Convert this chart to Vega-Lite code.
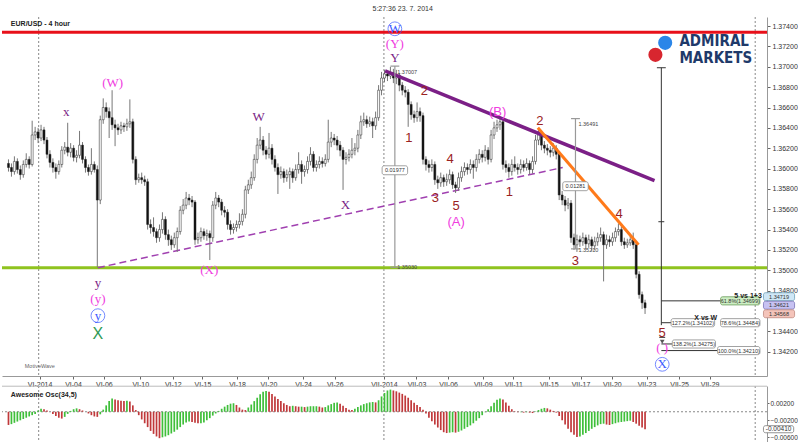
{
"$schema":"https://vega.github.io/schema/vega-lite/v6.json",
"padding":{"left":0,"top":4,"right":0,"bottom":0},
"background":"white",
"spacing":10,
"bounds":"flush",
"config":{"view":{"stroke":null},"font":"Liberation Sans","axis":{"grid":false,"title":null,"labelOverlap":false,"labelBound":false}},
"datasets":{
"candles":[
{"n":0,"o":1.3605,"h":1.3609,"l":1.3597,"c":1.3601,"ao":-0.0031},
{"n":1,"o":1.3601,"h":1.3605,"l":1.3592,"c":1.3597,"ao":-0.0029},
{"n":2,"o":1.3597,"h":1.3612,"l":1.3594,"c":1.3607,"ao":-0.0026},
{"n":3,"o":1.3607,"h":1.3610,"l":1.3595,"c":1.3599,"ao":-0.0023},
{"n":4,"o":1.3599,"h":1.3603,"l":1.3589,"c":1.3594,"ao":-0.0020},
{"n":5,"o":1.3594,"h":1.3608,"l":1.3591,"c":1.3604,"ao":-0.0017},
{"n":6,"o":1.3604,"h":1.3615,"l":1.3601,"c":1.3609,"ao":-0.0014},
{"n":7,"o":1.3609,"h":1.3612,"l":1.3600,"c":1.3604,"ao":-0.0011},
{"n":8,"o":1.3604,"h":1.3647,"l":1.3602,"c":1.3633,"ao":-0.0008},
{"n":9,"o":1.3633,"h":1.3641,"l":1.3628,"c":1.3636,"ao":-0.0005},
{"n":10,"o":1.3636,"h":1.3640,"l":1.3625,"c":1.3630,"ao":0.0003},
{"n":11,"o":1.3630,"h":1.3643,"l":1.3627,"c":1.3638,"ao":0.0007},
{"n":12,"o":1.3638,"h":1.3641,"l":1.3624,"c":1.3628,"ao":0.0006},
{"n":13,"o":1.3628,"h":1.3631,"l":1.3610,"c":1.3614,"ao":0.0003},
{"n":14,"o":1.3614,"h":1.3618,"l":1.3601,"c":1.3606,"ao":0.0000},
{"n":15,"o":1.3606,"h":1.3610,"l":1.3596,"c":1.3601,"ao":-0.0005},
{"n":16,"o":1.3601,"h":1.3605,"l":1.3590,"c":1.3597,"ao":-0.0010},
{"n":17,"o":1.3597,"h":1.3608,"l":1.3594,"c":1.3604,"ao":-0.0014},
{"n":18,"o":1.3604,"h":1.3622,"l":1.3601,"c":1.3618,"ao":-0.0016},
{"n":19,"o":1.3618,"h":1.3626,"l":1.3614,"c":1.3621,"ao":-0.0012},
{"n":20,"o":1.3621,"h":1.3645,"l":1.3612,"c":1.3616,"ao":-0.0005},
{"n":21,"o":1.3616,"h":1.3625,"l":1.3611,"c":1.3620,"ao":0.0002},
{"n":22,"o":1.3620,"h":1.3623,"l":1.3607,"c":1.3611,"ao":0.0006},
{"n":23,"o":1.3611,"h":1.3618,"l":1.3606,"c":1.3613,"ao":0.0008},
{"n":24,"o":1.3613,"h":1.3637,"l":1.3610,"c":1.3623,"ao":0.0006},
{"n":25,"o":1.3623,"h":1.3626,"l":1.3605,"c":1.3609,"ao":0.0003},
{"n":26,"o":1.3609,"h":1.3612,"l":1.3596,"c":1.3601,"ao":0.0000},
{"n":27,"o":1.3601,"h":1.3604,"l":1.3593,"c":1.3597,"ao":-0.0004},
{"n":28,"o":1.3597,"h":1.3620,"l":1.3594,"c":1.3604,"ao":-0.0008},
{"n":29,"o":1.3604,"h":1.3607,"l":1.3596,"c":1.3599,"ao":-0.0011},
{"n":30,"o":1.3599,"h":1.3603,"l":1.3503,"c":1.3569,"ao":-0.0012},
{"n":31,"o":1.3569,"h":1.3652,"l":1.3565,"c":1.3648,"ao":-0.0006},
{"n":32,"o":1.3648,"h":1.3669,"l":1.3644,"c":1.3660,"ao":0.0005},
{"n":33,"o":1.3660,"h":1.3665,"l":1.3650,"c":1.3656,"ao":0.0015},
{"n":34,"o":1.3656,"h":1.3660,"l":1.3630,"c":1.3650,"ao":0.0025},
{"n":35,"o":1.3650,"h":1.3677,"l":1.3638,"c":1.3643,"ao":0.0031},
{"n":36,"o":1.3643,"h":1.3648,"l":1.3622,"c":1.3640,"ao":0.0029},
{"n":37,"o":1.3640,"h":1.3644,"l":1.3633,"c":1.3638,"ao":0.0027},
{"n":38,"o":1.3638,"h":1.3646,"l":1.3634,"c":1.3642,"ao":0.0026},
{"n":39,"o":1.3642,"h":1.3645,"l":1.3636,"c":1.3641,"ao":0.0025},
{"n":40,"o":1.3641,"h":1.3649,"l":1.3637,"c":1.3644,"ao":0.0026},
{"n":41,"o":1.3644,"h":1.3668,"l":1.3640,"c":1.3646,"ao":0.0024},
{"n":42,"o":1.3646,"h":1.3649,"l":1.3605,"c":1.3609,"ao":0.0015},
{"n":43,"o":1.3609,"h":1.3612,"l":1.3584,"c":1.3589,"ao":0.0004},
{"n":44,"o":1.3589,"h":1.3595,"l":1.3586,"c":1.3591,"ao":-0.0008},
{"n":45,"o":1.3591,"h":1.3596,"l":1.3585,"c":1.3589,"ao":-0.0018},
{"n":46,"o":1.3589,"h":1.3593,"l":1.3583,"c":1.3587,"ao":-0.0027},
{"n":47,"o":1.3587,"h":1.3590,"l":1.3540,"c":1.3545,"ao":-0.0036},
{"n":48,"o":1.3545,"h":1.3550,"l":1.3536,"c":1.3542,"ao":-0.0045},
{"n":49,"o":1.3542,"h":1.3552,"l":1.3533,"c":1.3538,"ao":-0.0052},
{"n":50,"o":1.3538,"h":1.3541,"l":1.3527,"c":1.3532,"ao":-0.0058},
{"n":51,"o":1.3532,"h":1.3545,"l":1.3528,"c":1.3540,"ao":-0.0062},
{"n":52,"o":1.3540,"h":1.3557,"l":1.3536,"c":1.3550,"ao":-0.0060},
{"n":53,"o":1.3550,"h":1.3553,"l":1.3530,"c":1.3535,"ao":-0.0058},
{"n":54,"o":1.3535,"h":1.3540,"l":1.3524,"c":1.3530,"ao":-0.0055},
{"n":55,"o":1.3530,"h":1.3534,"l":1.3520,"c":1.3525,"ao":-0.0051},
{"n":56,"o":1.3525,"h":1.3537,"l":1.3522,"c":1.3532,"ao":-0.0047},
{"n":57,"o":1.3532,"h":1.3542,"l":1.3518,"c":1.3538,"ao":-0.0042},
{"n":58,"o":1.3538,"h":1.3563,"l":1.3535,"c":1.3559,"ao":-0.0036},
{"n":59,"o":1.3559,"h":1.3570,"l":1.3555,"c":1.3564,"ao":-0.0030},
{"n":60,"o":1.3564,"h":1.3577,"l":1.3560,"c":1.3571,"ao":-0.0025},
{"n":61,"o":1.3571,"h":1.3575,"l":1.3564,"c":1.3569,"ao":-0.0023},
{"n":62,"o":1.3569,"h":1.3573,"l":1.3562,"c":1.3567,"ao":-0.0024},
{"n":63,"o":1.3567,"h":1.3569,"l":1.3525,"c":1.3530,"ao":-0.0026},
{"n":64,"o":1.3530,"h":1.3537,"l":1.3526,"c":1.3532,"ao":-0.0027},
{"n":65,"o":1.3532,"h":1.3542,"l":1.3528,"c":1.3538,"ao":-0.0027},
{"n":66,"o":1.3538,"h":1.3541,"l":1.3530,"c":1.3534,"ao":-0.0025},
{"n":67,"o":1.3534,"h":1.3540,"l":1.3529,"c":1.3536,"ao":-0.0020},
{"n":68,"o":1.3536,"h":1.3539,"l":1.3510,"c":1.3532,"ao":-0.0015},
{"n":69,"o":1.3532,"h":1.3568,"l":1.3528,"c":1.3564,"ao":-0.0009},
{"n":70,"o":1.3564,"h":1.3577,"l":1.3560,"c":1.3571,"ao":-0.0004},
{"n":71,"o":1.3571,"h":1.3574,"l":1.3562,"c":1.3567,"ao":0.0002},
{"n":72,"o":1.3567,"h":1.3570,"l":1.3554,"c":1.3559,"ao":0.0007},
{"n":73,"o":1.3559,"h":1.3563,"l":1.3552,"c":1.3557,"ao":0.0012},
{"n":74,"o":1.3557,"h":1.3560,"l":1.3540,"c":1.3545,"ao":0.0016},
{"n":75,"o":1.3545,"h":1.3549,"l":1.3535,"c":1.3540,"ao":0.0019},
{"n":76,"o":1.3540,"h":1.3546,"l":1.3536,"c":1.3542,"ao":0.0020},
{"n":77,"o":1.3542,"h":1.3549,"l":1.3538,"c":1.3545,"ao":0.0016},
{"n":78,"o":1.3545,"h":1.3556,"l":1.3541,"c":1.3548,"ao":0.0010},
{"n":79,"o":1.3548,"h":1.3560,"l":1.3544,"c":1.3555,"ao":0.0005},
{"n":80,"o":1.3555,"h":1.3583,"l":1.3551,"c":1.3579,"ao":0.0004},
{"n":81,"o":1.3579,"h":1.3589,"l":1.3575,"c":1.3584,"ao":0.0010},
{"n":82,"o":1.3584,"h":1.3597,"l":1.3580,"c":1.3591,"ao":0.0017},
{"n":83,"o":1.3591,"h":1.3614,"l":1.3588,"c":1.3609,"ao":0.0025},
{"n":84,"o":1.3609,"h":1.3630,"l":1.3605,"c":1.3623,"ao":0.0033},
{"n":85,"o":1.3623,"h":1.3641,"l":1.3619,"c":1.3628,"ao":0.0041},
{"n":86,"o":1.3628,"h":1.3632,"l":1.3613,"c":1.3618,"ao":0.0047},
{"n":87,"o":1.3618,"h":1.3622,"l":1.3609,"c":1.3614,"ao":0.0049},
{"n":88,"o":1.3614,"h":1.3635,"l":1.3610,"c":1.3620,"ao":0.0047},
{"n":89,"o":1.3620,"h":1.3624,"l":1.3604,"c":1.3609,"ao":0.0042},
{"n":90,"o":1.3609,"h":1.3613,"l":1.3597,"c":1.3601,"ao":0.0036},
{"n":91,"o":1.3601,"h":1.3605,"l":1.3575,"c":1.3594,"ao":0.0030},
{"n":92,"o":1.3594,"h":1.3602,"l":1.3590,"c":1.3597,"ao":0.0025},
{"n":93,"o":1.3597,"h":1.3600,"l":1.3586,"c":1.3591,"ao":0.0020},
{"n":94,"o":1.3591,"h":1.3599,"l":1.3587,"c":1.3594,"ao":0.0016},
{"n":95,"o":1.3594,"h":1.3601,"l":1.3580,"c":1.3597,"ao":0.0013},
{"n":96,"o":1.3597,"h":1.3600,"l":1.3586,"c":1.3591,"ao":0.0014},
{"n":97,"o":1.3591,"h":1.3604,"l":1.3588,"c":1.3599,"ao":0.0013},
{"n":98,"o":1.3599,"h":1.3616,"l":1.3595,"c":1.3604,"ao":0.0012},
{"n":99,"o":1.3604,"h":1.3608,"l":1.3585,"c":1.3597,"ao":0.0012},
{"n":100,"o":1.3597,"h":1.3603,"l":1.3592,"c":1.3599,"ao":0.0011},
{"n":101,"o":1.3599,"h":1.3612,"l":1.3595,"c":1.3607,"ao":0.0012},
{"n":102,"o":1.3607,"h":1.3621,"l":1.3603,"c":1.3614,"ao":0.0013},
{"n":103,"o":1.3614,"h":1.3617,"l":1.3597,"c":1.3601,"ao":0.0013},
{"n":104,"o":1.3601,"h":1.3608,"l":1.3597,"c":1.3604,"ao":0.0013},
{"n":105,"o":1.3604,"h":1.3612,"l":1.3600,"c":1.3607,"ao":0.0012},
{"n":106,"o":1.3607,"h":1.3611,"l":1.3601,"c":1.3605,"ao":0.0010},
{"n":107,"o":1.3605,"h":1.3614,"l":1.3602,"c":1.3609,"ao":0.0011},
{"n":108,"o":1.3609,"h":1.3648,"l":1.3606,"c":1.3626,"ao":0.0015},
{"n":109,"o":1.3626,"h":1.3636,"l":1.3621,"c":1.3630,"ao":0.0018},
{"n":110,"o":1.3630,"h":1.3634,"l":1.3623,"c":1.3628,"ao":0.0021},
{"n":111,"o":1.3628,"h":1.3632,"l":1.3618,"c":1.3623,"ao":0.0022},
{"n":112,"o":1.3623,"h":1.3627,"l":1.3612,"c":1.3618,"ao":0.0019},
{"n":113,"o":1.3618,"h":1.3621,"l":1.3579,"c":1.3609,"ao":0.0014},
{"n":114,"o":1.3609,"h":1.3616,"l":1.3604,"c":1.3611,"ao":0.0009},
{"n":115,"o":1.3611,"h":1.3619,"l":1.3607,"c":1.3614,"ao":0.0005},
{"n":116,"o":1.3614,"h":1.3630,"l":1.3610,"c":1.3618,"ao":0.0004},
{"n":117,"o":1.3618,"h":1.3625,"l":1.3613,"c":1.3620,"ao":0.0007},
{"n":118,"o":1.3620,"h":1.3638,"l":1.3616,"c":1.3633,"ao":0.0011},
{"n":119,"o":1.3633,"h":1.3652,"l":1.3629,"c":1.3646,"ao":0.0015},
{"n":120,"o":1.3646,"h":1.3655,"l":1.3642,"c":1.3648,"ao":0.0018},
{"n":121,"o":1.3648,"h":1.3652,"l":1.3640,"c":1.3644,"ao":0.0020},
{"n":122,"o":1.3644,"h":1.3651,"l":1.3641,"c":1.3646,"ao":0.0022},
{"n":123,"o":1.3646,"h":1.3650,"l":1.3630,"c":1.3642,"ao":0.0023},
{"n":124,"o":1.3642,"h":1.3656,"l":1.3638,"c":1.3650,"ao":0.0022},
{"n":125,"o":1.3650,"h":1.3682,"l":1.3647,"c":1.3677,"ao":0.0027},
{"n":126,"o":1.3677,"h":1.3695,"l":1.3672,"c":1.3689,"ao":0.0036},
{"n":127,"o":1.3689,"h":1.3697,"l":1.3685,"c":1.3693,"ao":0.0044},
{"n":128,"o":1.3693,"h":1.3696,"l":1.3686,"c":1.3691,"ao":0.0050},
{"n":129,"o":1.3691,"h":1.3700,"l":1.3688,"c":1.3694,"ao":0.0052},
{"n":130,"o":1.3694,"h":1.3698,"l":1.3684,"c":1.3689,"ao":0.0050},
{"n":131,"o":1.3689,"h":1.3697,"l":1.3683,"c":1.3692,"ao":0.0048},
{"n":132,"o":1.3692,"h":1.3694,"l":1.3676,"c":1.3682,"ao":0.0045},
{"n":133,"o":1.3682,"h":1.3685,"l":1.3672,"c":1.3677,"ao":0.0042},
{"n":134,"o":1.3677,"h":1.3681,"l":1.3670,"c":1.3675,"ao":0.0038},
{"n":135,"o":1.3675,"h":1.3678,"l":1.3641,"c":1.3663,"ao":0.0033},
{"n":136,"o":1.3663,"h":1.3666,"l":1.3648,"c":1.3653,"ao":0.0027},
{"n":137,"o":1.3653,"h":1.3657,"l":1.3645,"c":1.3650,"ao":0.0021},
{"n":138,"o":1.3650,"h":1.3665,"l":1.3646,"c":1.3656,"ao":0.0016},
{"n":139,"o":1.3656,"h":1.3660,"l":1.3646,"c":1.3652,"ao":0.0011},
{"n":140,"o":1.3652,"h":1.3655,"l":1.3604,"c":1.3609,"ao":0.0005},
{"n":141,"o":1.3609,"h":1.3612,"l":1.3598,"c":1.3604,"ao":-0.0004},
{"n":142,"o":1.3604,"h":1.3608,"l":1.3596,"c":1.3601,"ao":-0.0014},
{"n":143,"o":1.3601,"h":1.3609,"l":1.3597,"c":1.3604,"ao":-0.0022},
{"n":144,"o":1.3604,"h":1.3607,"l":1.3584,"c":1.3589,"ao":-0.0030},
{"n":145,"o":1.3589,"h":1.3593,"l":1.3580,"c":1.3586,"ao":-0.0037},
{"n":146,"o":1.3586,"h":1.3596,"l":1.3582,"c":1.3591,"ao":-0.0043},
{"n":147,"o":1.3591,"h":1.3594,"l":1.3582,"c":1.3587,"ao":-0.0048},
{"n":148,"o":1.3587,"h":1.3595,"l":1.3583,"c":1.3589,"ao":-0.0050},
{"n":149,"o":1.3589,"h":1.3599,"l":1.3585,"c":1.3594,"ao":-0.0049},
{"n":150,"o":1.3594,"h":1.3597,"l":1.3580,"c":1.3584,"ao":-0.0048},
{"n":151,"o":1.3584,"h":1.3587,"l":1.3576,"c":1.3581,"ao":-0.0049},
{"n":152,"o":1.3581,"h":1.3596,"l":1.3578,"c":1.3591,"ao":-0.0047},
{"n":153,"o":1.3591,"h":1.3602,"l":1.3587,"c":1.3597,"ao":-0.0044},
{"n":154,"o":1.3597,"h":1.3606,"l":1.3593,"c":1.3601,"ao":-0.0040},
{"n":155,"o":1.3601,"h":1.3605,"l":1.3594,"c":1.3599,"ao":-0.0036},
{"n":156,"o":1.3599,"h":1.3609,"l":1.3595,"c":1.3604,"ao":-0.0032},
{"n":157,"o":1.3604,"h":1.3608,"l":1.3590,"c":1.3601,"ao":-0.0027},
{"n":158,"o":1.3601,"h":1.3614,"l":1.3597,"c":1.3609,"ao":-0.0021},
{"n":159,"o":1.3609,"h":1.3619,"l":1.3605,"c":1.3614,"ao":-0.0015},
{"n":160,"o":1.3614,"h":1.3618,"l":1.3606,"c":1.3611,"ao":-0.0008},
{"n":161,"o":1.3611,"h":1.3623,"l":1.3607,"c":1.3618,"ao":-0.0001},
{"n":162,"o":1.3618,"h":1.3621,"l":1.3604,"c":1.3609,"ao":0.0006},
{"n":163,"o":1.3609,"h":1.3638,"l":1.3606,"c":1.3633,"ao":0.0013},
{"n":164,"o":1.3633,"h":1.3646,"l":1.3629,"c":1.3640,"ao":0.0021},
{"n":165,"o":1.3640,"h":1.3648,"l":1.3636,"c":1.3643,"ao":0.0028},
{"n":166,"o":1.3643,"h":1.3651,"l":1.3638,"c":1.3646,"ao":0.0031},
{"n":167,"o":1.3646,"h":1.3649,"l":1.3599,"c":1.3604,"ao":0.0029},
{"n":168,"o":1.3604,"h":1.3608,"l":1.3596,"c":1.3601,"ao":0.0022},
{"n":169,"o":1.3601,"h":1.3605,"l":1.3591,"c":1.3597,"ao":0.0014},
{"n":170,"o":1.3597,"h":1.3609,"l":1.3593,"c":1.3604,"ao":0.0006},
{"n":171,"o":1.3604,"h":1.3612,"l":1.3597,"c":1.3601,"ao":0.0001},
{"n":172,"o":1.3601,"h":1.3605,"l":1.3594,"c":1.3599,"ao":-0.0001},
{"n":173,"o":1.3599,"h":1.3609,"l":1.3595,"c":1.3604,"ao":-0.0001},
{"n":174,"o":1.3604,"h":1.3608,"l":1.3597,"c":1.3601,"ao":-0.0002},
{"n":175,"o":1.3601,"h":1.3610,"l":1.3598,"c":1.3605,"ao":-0.0001},
{"n":176,"o":1.3605,"h":1.3608,"l":1.3594,"c":1.3599,"ao":-0.0002},
{"n":177,"o":1.3599,"h":1.3612,"l":1.3595,"c":1.3607,"ao":-0.0003},
{"n":178,"o":1.3607,"h":1.3633,"l":1.3604,"c":1.3628,"ao":0.0001},
{"n":179,"o":1.3628,"h":1.3640,"l":1.3623,"c":1.3633,"ao":0.0004},
{"n":180,"o":1.3633,"h":1.3636,"l":1.3618,"c":1.3623,"ao":0.0007},
{"n":181,"o":1.3623,"h":1.3627,"l":1.3615,"c":1.3620,"ao":0.0009},
{"n":182,"o":1.3620,"h":1.3624,"l":1.3613,"c":1.3618,"ao":0.0008},
{"n":183,"o":1.3618,"h":1.3622,"l":1.3611,"c":1.3616,"ao":0.0005},
{"n":184,"o":1.3616,"h":1.3625,"l":1.3612,"c":1.3620,"ao":0.0002},
{"n":185,"o":1.3620,"h":1.3623,"l":1.3609,"c":1.3614,"ao":-0.0002},
{"n":186,"o":1.3614,"h":1.3617,"l":1.3569,"c":1.3574,"ao":-0.0010},
{"n":187,"o":1.3574,"h":1.3578,"l":1.3564,"c":1.3569,"ao":-0.0020},
{"n":188,"o":1.3569,"h":1.3573,"l":1.3558,"c":1.3564,"ao":-0.0030},
{"n":189,"o":1.3564,"h":1.3571,"l":1.3560,"c":1.3566,"ao":-0.0040},
{"n":190,"o":1.3566,"h":1.3569,"l":1.3527,"c":1.3532,"ao":-0.0048},
{"n":191,"o":1.3532,"h":1.3536,"l":1.3520,"c":1.3525,"ao":-0.0054},
{"n":192,"o":1.3525,"h":1.3535,"l":1.3518,"c":1.3530,"ao":-0.0059},
{"n":193,"o":1.3530,"h":1.3534,"l":1.3523,"c":1.3528,"ao":-0.0058},
{"n":194,"o":1.3528,"h":1.3537,"l":1.3524,"c":1.3532,"ao":-0.0054},
{"n":195,"o":1.3532,"h":1.3535,"l":1.3521,"c":1.3526,"ao":-0.0050},
{"n":196,"o":1.3526,"h":1.3535,"l":1.3522,"c":1.3530,"ao":-0.0045},
{"n":197,"o":1.3530,"h":1.3533,"l":1.3519,"c":1.3524,"ao":-0.0040},
{"n":198,"o":1.3524,"h":1.3533,"l":1.3520,"c":1.3528,"ao":-0.0036},
{"n":199,"o":1.3528,"h":1.3537,"l":1.3524,"c":1.3532,"ao":-0.0032},
{"n":200,"o":1.3532,"h":1.3542,"l":1.3528,"c":1.3535,"ao":-0.0029},
{"n":201,"o":1.3535,"h":1.3538,"l":1.3489,"c":1.3525,"ao":-0.0028},
{"n":202,"o":1.3525,"h":1.3535,"l":1.3521,"c":1.3530,"ao":-0.0030},
{"n":203,"o":1.3530,"h":1.3534,"l":1.3523,"c":1.3528,"ao":-0.0031},
{"n":204,"o":1.3528,"h":1.3537,"l":1.3524,"c":1.3532,"ao":-0.0029},
{"n":205,"o":1.3532,"h":1.3542,"l":1.3528,"c":1.3538,"ao":-0.0027},
{"n":206,"o":1.3538,"h":1.3546,"l":1.3534,"c":1.3540,"ao":-0.0025},
{"n":207,"o":1.3540,"h":1.3543,"l":1.3524,"c":1.3528,"ao":-0.0024},
{"n":208,"o":1.3528,"h":1.3532,"l":1.3521,"c":1.3525,"ao":-0.0023},
{"n":209,"o":1.3525,"h":1.3531,"l":1.3522,"c":1.3527,"ao":-0.0022},
{"n":210,"o":1.3527,"h":1.3535,"l":1.3524,"c":1.3530,"ao":-0.0021},
{"n":211,"o":1.3530,"h":1.3537,"l":1.3521,"c":1.3525,"ao":-0.0024},
{"n":212,"o":1.3525,"h":1.3528,"l":1.3492,"c":1.3496,"ao":-0.0028},
{"n":213,"o":1.3496,"h":1.3499,"l":1.3472,"c":1.3476,"ao":-0.0033},
{"n":214,"o":1.3476,"h":1.3479,"l":1.3462,"c":1.3468,"ao":-0.0037},
{"n":215,"o":1.3468,"h":1.3471,"l":1.3457,"c":1.3463,"ao":-0.0041}
],
"vlines":[{"n":10.2},{"n":126.8},{"n":252.2}],
"waves":[
{"n":19.5,"p":1.36558,"t":"x","deg":"minor"},
{"n":84.5,"p":1.36509,"t":"W","deg":"minor"},
{"n":113.8,"p":1.35644,"t":"X","deg":"minor"},
{"n":30.2,"p":1.34877,"t":"y","deg":"minor"},
{"n":130.5,"p":1.37089,"t":"Y","deg":"minor"},
{"n":35.2,"p":1.36843,"t":"(W)","deg":"intermediate"},
{"n":67.8,"p":1.35005,"t":"(X)","deg":"intermediate"},
{"n":30.2,"p":1.3472,"t":"(y)","deg":"intermediate"},
{"n":130.5,"p":1.37226,"t":"(Y)","deg":"intermediate"},
{"n":220.8,"p":1.34236,"t":"(   )","deg":"intermediate"},
{"n":151.2,"p":1.35477,"t":"(A)","deg":"corrective"},
{"n":165.2,"p":1.36558,"t":"(B)","deg":"corrective"},
{"n":140.5,"p":1.36764,"t":"2","deg":"impulse"},
{"n":135.2,"p":1.36302,"t":"1","deg":"impulse"},
{"n":149.2,"p":1.36096,"t":"4","deg":"impulse"},
{"n":144.2,"p":1.35713,"t":"3","deg":"impulse"},
{"n":151.2,"p":1.35634,"t":"5","deg":"impulse"},
{"n":169.2,"p":1.35772,"t":"1","deg":"impulse"},
{"n":179.5,"p":1.36469,"t":"2","deg":"impulse"},
{"n":191.5,"p":1.35093,"t":"3","deg":"impulse"},
{"n":206.2,"p":1.35555,"t":"4","deg":"impulse"},
{"n":220.8,"p":1.34386,"t":"5","deg":"impulse"},
{"n":130.5,"p":1.37374,"t":"W","deg":"primary"},
{"n":30.2,"p":1.34553,"t":"y","deg":"primary"},
{"n":220.8,"p":1.34075,"t":"X","deg":"primary"},
{"n":30.2,"p":1.34377,"t":"X","deg":"cycle"}
],
"boxes":[
{"n1":240.5,"n2":253.8,"p1":1.34739,"p2":1.34659,"t":"61.8%(1.34699)","kind":"hit"},
{"n1":240.5,"n2":253.8,"p1":1.34524,"p2":1.34444,"t":"78.6%(1.34484)","kind":"fib"},
{"n1":223.8,"n2":238.5,"p1":1.34524,"p2":1.34444,"t":"127.2%(1.34102)","kind":"fib"},
{"n1":224.2,"n2":238.8,"p1":1.34315,"p2":1.34235,"t":"138.2%(1.34275)","kind":"fib"},
{"n1":239.5,"n2":253.8,"p1":1.3425,"p2":1.3417,"t":"100.0%(1.34210)","kind":"fib"},
{"n1":126.2,"n2":134.8,"p1":1.36027,"p2":1.35939,"t":"0.01977","kind":"fib"},
{"n1":187.2,"n2":195.8,"p1":1.3587,"p2":1.35782,"t":"0.01281","kind":"fib"},
{"n1":255,"n2":265.5,"p1":1.34779,"p2":1.34701,"t":"1.34719","kind":"last"},
{"n1":255,"n2":265.5,"p1":1.34695,"p2":1.34617,"t":"1.34621","kind":"mid"},
{"n1":255,"n2":265.5,"p1":1.34611,"p2":1.34533,"t":"1.34568","kind":"low"}
]
},
"vconcat":[
{
"width":765,"height":359,
"title":{"text":"5:27:36 23. 7. 2014","anchor":"start","dx":372,"fontSize":7,"fontWeight":"normal","color":"#333","offset":5,"font":"Liberation Sans"},
"layer":[
{"data":{"name":"vlines"},"mark":{"type":"rule","strokeDash":[2,2],"color":"#888","strokeWidth":1},
 "encoding":{"x":{"field":"n","type":"quantitative","scale":{"domain":[-0.5,254.5],"nice":false,"zero":false},
  "axis":{"title":null,"orient":"bottom","tickCount":200,"values":[10.5,21.8,32.2,44.5,55.5,65.5,77.2,87.8,99.5,110.2,126.8,137.8,148.5,160.2,170.5,182.5,193.2,203.8,215.5,226.5,236.8],
  "labelExpr":"['VI-2014','VI-04','VI-06','VI-10','VI-12','VI-15','VI-18','VI-20','VI-24','VI-26','VII-2014','VII-03','VII-06','VII-09','VII-11','VII-15','VII-17','VII-20','VII-23','VII-25','VII-29'][indexof([10.5,21.8,32.2,44.5,55.5,65.5,77.2,87.8,99.5,110.2,126.8,137.8,148.5,160.2,170.5,182.5,193.2,203.8,215.5,226.5,236.8],datum.value)]",
  "labelFontSize":7,"labelColor":"#333","tickSize":3,"tickColor":"#666","domainColor":"#999","labelPadding":1,"grid":false,"labelFlush":false,"labelOverlap":false}}}},
{"data":{"values":[{"p":1.3734}]},"mark":{"type":"rule","color":"#e8101a","strokeWidth":3},
 "encoding":{"y":{"field":"p","type":"quantitative","scale":{"domain":[1.3396,1.3749],"nice":false,"zero":false},
  "axis":{"orient":"right","title":null,"tickCount":200,"values":[1.342,1.344,1.348,1.35,1.352,1.354,1.356,1.358,1.36,1.362,1.364,1.366,1.368,1.37,1.372,1.374],"format":".5f","labelFontSize":7,"labelColor":"#333","tickSize":3,"tickColor":"#666","domainColor":"#999","labelPadding":2,"grid":false,"labelOverlap":false}}}},
{"data":{"values":[{"p":1.35025}]},"mark":{"type":"rule","color":"#8fc31f","strokeWidth":3},
 "encoding":{"y":{"field":"p","type":"quantitative","scale":{"domain":[1.3396,1.3749],"nice":false,"zero":false}}}},
{"data":{"values":[{"n1":30.2,"p1":1.35025,"n2":187.2,"p2":1.3601}]},"mark":{"type":"rule","color":"#a040b0","strokeWidth":1.5,"strokeDash":[7,4]},
 "encoding":{"x":{"field":"n1","type":"quantitative","scale":{"domain":[-0.5,254.5],"nice":false,"zero":false}},"x2":{"field":"n2"},
  "y":{"field":"p1","type":"quantitative","scale":{"domain":[1.3396,1.3749],"nice":false,"zero":false}},"y2":{"field":"p2"}}},
{"data":{"name":"candles"},"mark":{"type":"rule","color":"#777","strokeWidth":1},
 "encoding":{"x":{"field":"n","type":"quantitative","scale":{"domain":[-0.5,254.5],"nice":false,"zero":false}},
  "y":{"field":"l","type":"quantitative","scale":{"domain":[1.3396,1.3749],"nice":false,"zero":false}},"y2":{"field":"h"}}},
{"data":{"name":"candles"},"mark":{"type":"bar","width":2,"stroke":"#222","strokeWidth":0.5},
 "encoding":{"x":{"field":"n","type":"quantitative","scale":{"domain":[-0.5,254.5],"nice":false,"zero":false}},
  "y":{"field":"o","type":"quantitative","scale":{"domain":[1.3396,1.3749],"nice":false,"zero":false}},"y2":{"field":"c"},
  "fill":{"condition":{"test":"datum.c < datum.o","value":"#111"},"value":"#ffffff"}}},
{"data":{"values":[{"n1":127.2,"p1":1.3696,"n2":218.2,"p2":1.3588}]},"mark":{"type":"rule","color":"#7b1f86","strokeWidth":3.5},
 "encoding":{"x":{"field":"n1","type":"quantitative","scale":{"domain":[-0.5,254.5],"nice":false,"zero":false}},"x2":{"field":"n2"},
  "y":{"field":"p1","type":"quantitative","scale":{"domain":[1.3396,1.3749],"nice":false,"zero":false}},"y2":{"field":"p2"}}},
{"data":{"values":[{"n1":178.8,"p1":1.364,"n2":212.8,"p2":1.3525}]},"mark":{"type":"rule","color":"#ff7a1a","strokeWidth":3},
 "encoding":{"x":{"field":"n1","type":"quantitative","scale":{"domain":[-0.5,254.5],"nice":false,"zero":false}},"x2":{"field":"n2"},
  "y":{"field":"p1","type":"quantitative","scale":{"domain":[1.3396,1.3749],"nice":false,"zero":false}},"y2":{"field":"p2"}}},
{"data":{"values":[
 {"n1":130.5,"p1":1.37007,"n2":130.5,"p2":1.3503},{"n1":129,"p1":1.37007,"n2":132,"p2":1.37007},{"n1":129,"p1":1.3503,"n2":132,"p2":1.3503},
 {"n1":191.5,"p1":1.36491,"n2":191.5,"p2":1.3521},{"n1":190,"p1":1.36491,"n2":193,"p2":1.36491},{"n1":190,"p1":1.3521,"n2":193,"p2":1.3521}]},
 "mark":{"type":"rule","color":"#999","strokeWidth":1.2},
 "encoding":{"x":{"field":"n1","type":"quantitative","scale":{"domain":[-0.5,254.5],"nice":false,"zero":false}},"x2":{"field":"n2"},
  "y":{"field":"p1","type":"quantitative","scale":{"domain":[1.3396,1.3749],"nice":false,"zero":false}},"y2":{"field":"p2"}}},
{"data":{"values":[
 {"n1":220.5,"p1":1.36991,"n2":220.5,"p2":1.3446},{"n1":219,"p1":1.36991,"n2":222,"p2":1.36991},{"n1":219.5,"p1":1.35477,"n2":221.5,"p2":1.35477},
 {"n1":220.5,"p1":1.34699,"n2":240.5,"p2":1.34699},{"n1":220.5,"p1":1.34484,"n2":223.8,"p2":1.34484},{"n1":220.5,"p1":1.34275,"n2":224.2,"p2":1.34275},
 {"n1":220.5,"p1":1.3421,"n2":239.5,"p2":1.3421},{"n1":219.8,"p1":1.3434,"n2":221.8,"p2":1.3434}]},
 "mark":{"type":"rule","color":"#333","strokeWidth":1},
 "encoding":{"x":{"field":"n1","type":"quantitative","scale":{"domain":[-0.5,254.5],"nice":false,"zero":false}},"x2":{"field":"n2"},
  "y":{"field":"p1","type":"quantitative","scale":{"domain":[1.3396,1.3749],"nice":false,"zero":false}},"y2":{"field":"p2"}}},
{"data":{"values":[{"n":220.8,"p":1.34297}]},"mark":{"type":"point","shape":"triangle-down","filled":true,"color":"#111","size":22},
 "encoding":{"x":{"field":"n","type":"quantitative","scale":{"domain":[-0.5,254.5],"nice":false,"zero":false}},
  "y":{"field":"p","type":"quantitative","scale":{"domain":[1.3396,1.3749],"nice":false,"zero":false}}}},
{"data":{"name":"boxes"},"mark":{"type":"rect","cornerRadius":2,"strokeWidth":0.8},
 "encoding":{"x":{"field":"n1","type":"quantitative","scale":{"domain":[-0.5,254.5],"nice":false,"zero":false}},"x2":{"field":"n2"},
  "y":{"field":"p1","type":"quantitative","scale":{"domain":[1.3396,1.3749],"nice":false,"zero":false}},"y2":{"field":"p2"},
  "fill":{"field":"kind","type":"nominal","scale":{"domain":["hit","fib","last","mid","low"],"range":["#cdeec3","#ffffff","#cfe7f6","#c7c2f2","#f4c4ba"]},"legend":null},
  "stroke":{"field":"kind","type":"nominal","scale":{"domain":["hit","fib","last","mid","low"],"range":["#6a9a5a","#8a8a8a","#6f9fb8","#7a74b8","#c08a80"]},"legend":null}}},
{"data":{"name":"boxes"},"transform":[{"calculate":"(datum.n1+datum.n2)/2","as":"nc"},{"calculate":"(datum.p1+datum.p2)/2","as":"pc"}],
 "mark":{"type":"text","fontSize":5.5,"color":"#333","align":"center","baseline":"middle"},
 "encoding":{"x":{"field":"nc","type":"quantitative","scale":{"domain":[-0.5,254.5],"nice":false,"zero":false}},
  "y":{"field":"pc","type":"quantitative","scale":{"domain":[1.3396,1.3749],"nice":false,"zero":false}},"text":{"field":"t"}}},
{"data":{"values":[{"n":131.3,"p":1.36951,"t":"1.37007"},{"n":131.3,"p":1.35034,"t":"1.35030"},{"n":192.5,"p":1.3644,"t":"1.36491"},{"n":192.5,"p":1.35201,"t":"1.35210"}]},
 "mark":{"type":"text","fontSize":5.5,"color":"#444","align":"left","baseline":"middle"},
 "encoding":{"x":{"field":"n","type":"quantitative","scale":{"domain":[-0.5,254.5],"nice":false,"zero":false}},
  "y":{"field":"p","type":"quantitative","scale":{"domain":[1.3396,1.3749],"nice":false,"zero":false}},"text":{"field":"t"}}},
{"data":{"values":[{"n":249.8,"p":1.34749,"t":"5 vs 1+3"},{"n":235.5,"p":1.34533,"t":"X vs W"}]},
 "mark":{"type":"text","fontSize":7,"fontWeight":"bold","color":"#222","align":"center","baseline":"middle"},
 "encoding":{"x":{"field":"n","type":"quantitative","scale":{"domain":[-0.5,254.5],"nice":false,"zero":false}},
  "y":{"field":"p","type":"quantitative","scale":{"domain":[1.3396,1.3749],"nice":false,"zero":false}},"text":{"field":"t"}}},
{"data":{"name":"waves"},"transform":[{"filter":"datum.deg=='primary'"}],
 "mark":{"type":"point","shape":"circle","filled":false,"color":"#3b5bff","strokeWidth":1,"size":190},
 "encoding":{"x":{"field":"n","type":"quantitative","scale":{"domain":[-0.5,254.5],"nice":false,"zero":false}},
  "y":{"field":"p","type":"quantitative","scale":{"domain":[1.3396,1.3749],"nice":false,"zero":false}}}},
{"data":{"name":"waves"},"transform":[{"filter":"datum.deg=='primary'"}],
 "mark":{"type":"text","font":"Liberation Serif","fontSize":13,"color":"#3b5bff","align":"center","baseline":"middle"},
 "encoding":{"x":{"field":"n","type":"quantitative","scale":{"domain":[-0.5,254.5],"nice":false,"zero":false}},
  "y":{"field":"p","type":"quantitative","scale":{"domain":[1.3396,1.3749],"nice":false,"zero":false}},"text":{"field":"t"}}},
{"data":{"name":"waves"},"transform":[{"filter":"datum.deg=='minor'"}],
 "mark":{"type":"text","font":"Liberation Serif","fontSize":13,"color":"#7b1f86","align":"center","baseline":"middle"},
 "encoding":{"x":{"field":"n","type":"quantitative","scale":{"domain":[-0.5,254.5],"nice":false,"zero":false}},
  "y":{"field":"p","type":"quantitative","scale":{"domain":[1.3396,1.3749],"nice":false,"zero":false}},"text":{"field":"t"}}},
{"data":{"name":"waves"},"transform":[{"filter":"datum.deg=='intermediate'"}],
 "mark":{"type":"text","font":"Liberation Serif","fontSize":13,"color":"#f03ce0","align":"center","baseline":"middle"},
 "encoding":{"x":{"field":"n","type":"quantitative","scale":{"domain":[-0.5,254.5],"nice":false,"zero":false}},
  "y":{"field":"p","type":"quantitative","scale":{"domain":[1.3396,1.3749],"nice":false,"zero":false}},"text":{"field":"t"}}},
{"data":{"name":"waves"},"transform":[{"filter":"datum.deg=='corrective'"}],
 "mark":{"type":"text","fontSize":13,"color":"#f03ce0","align":"center","baseline":"middle"},
 "encoding":{"x":{"field":"n","type":"quantitative","scale":{"domain":[-0.5,254.5],"nice":false,"zero":false}},
  "y":{"field":"p","type":"quantitative","scale":{"domain":[1.3396,1.3749],"nice":false,"zero":false}},"text":{"field":"t"}}},
{"data":{"name":"waves"},"transform":[{"filter":"datum.deg=='impulse'"}],
 "mark":{"type":"text","fontSize":13,"color":"#9a2222","align":"center","baseline":"middle"},
 "encoding":{"x":{"field":"n","type":"quantitative","scale":{"domain":[-0.5,254.5],"nice":false,"zero":false}},
  "y":{"field":"p","type":"quantitative","scale":{"domain":[1.3396,1.3749],"nice":false,"zero":false}},"text":{"field":"t"}}},
{"data":{"name":"waves"},"transform":[{"filter":"datum.deg=='cycle'"}],
 "mark":{"type":"text","fontSize":16,"color":"#2f9a55","align":"center","baseline":"middle"},
 "encoding":{"x":{"field":"n","type":"quantitative","scale":{"domain":[-0.5,254.5],"nice":false,"zero":false}},
  "y":{"field":"p","type":"quantitative","scale":{"domain":[1.3396,1.3749],"nice":false,"zero":false}},"text":{"field":"t"}}},
{"data":{"values":[{"n":221.8,"p":1.37236,"k":"blue"},{"n":218.5,"p":1.37118,"k":"red"}]},
 "mark":{"type":"point","shape":"circle","filled":true,"size":200,"opacity":1},
 "encoding":{"x":{"field":"n","type":"quantitative","scale":{"domain":[-0.5,254.5],"nice":false,"zero":false}},
  "y":{"field":"p","type":"quantitative","scale":{"domain":[1.3396,1.3749],"nice":false,"zero":false}},
  "color":{"field":"k","type":"nominal","scale":{"domain":["blue","red"],"range":["#2b86e8","#d8262f"]},"legend":null}}},
{"data":{"values":[{"n":226.6,"p":1.37255,"t":"ADMIRAL"},{"n":226.6,"p":1.3709,"t":"MARKETS"}]},
 "mark":{"type":"text","font":"'DejaVu Sans Condensed', 'Roboto Condensed', Roboto, sans-serif","fontWeight":"bold","fontSize":15,"color":"#1f3a6a","align":"left","baseline":"middle"},
 "encoding":{"x":{"field":"n","type":"quantitative","scale":{"domain":[-0.5,254.5],"nice":false,"zero":false}},
  "y":{"field":"p","type":"quantitative","scale":{"domain":[1.3396,1.3749],"nice":false,"zero":false}},"text":{"field":"t"}}},
{"data":{"values":[{"n":0.8,"p":1.37423,"t":"EUR/USD - 4 hour"}]},
 "mark":{"type":"text","fontSize":7,"fontWeight":"bold","color":"#222","align":"left","baseline":"middle"},
 "encoding":{"x":{"field":"n","type":"quantitative","scale":{"domain":[-0.5,254.5],"nice":false,"zero":false}},
  "y":{"field":"p","type":"quantitative","scale":{"domain":[1.3396,1.3749],"nice":false,"zero":false}},"text":{"field":"t"}}},
{"data":{"values":[{"n":5.5,"p":1.34055,"t":"MotiveWave"}]},
 "mark":{"type":"text","fontSize":5.5,"color":"#666","align":"left","baseline":"middle"},
 "encoding":{"x":{"field":"n","type":"quantitative","scale":{"domain":[-0.5,254.5],"nice":false,"zero":false}},
  "y":{"field":"p","type":"quantitative","scale":{"domain":[1.3396,1.3749],"nice":false,"zero":false}},"text":{"field":"t"}}}
]
},
{
"width":765,"height":56,
"layer":[
{"data":{"name":"vlines"},"mark":{"type":"rule","strokeDash":[2,2],"color":"#888","strokeWidth":1},
 "encoding":{"x":{"field":"n","type":"quantitative","scale":{"domain":[-0.5,254.5],"nice":false,"zero":false},"axis":null}}},
{"data":{"values":[{"v":0}]},"mark":{"type":"rule","strokeDash":[2,2],"color":"#888","strokeWidth":1},
 "encoding":{"y":{"field":"v","type":"quantitative","scale":{"domain":[-0.0071,0.00605],"nice":false,"zero":false},
  "axis":{"orient":"right","title":null,"tickCount":50,"values":[0.002,-0.002,-0.006],"format":".5f","labelFontSize":6.5,"labelColor":"#333","tickSize":2,"tickColor":"#666","domainColor":"#999","labelPadding":1,"grid":false,"labelOverlap":false}}}},
{"data":{"values":[{"v":0.006}]},"mark":{"type":"rule","color":"#bbb","strokeWidth":1},
 "encoding":{"y":{"field":"v","type":"quantitative","scale":{"domain":[-0.0071,0.00605],"nice":false,"zero":false}}}},
{"data":{"name":"candles"},"transform":[{"window":[{"op":"lag","field":"ao","as":"prev"}],"sort":[{"field":"n","order":"ascending"}]}],
 "mark":{"type":"bar","width":1.7},
 "encoding":{"x":{"field":"n","type":"quantitative","scale":{"domain":[-0.5,254.5],"nice":false,"zero":false},"axis":null},
  "y":{"field":"ao","type":"quantitative","scale":{"domain":[-0.0071,0.00605],"nice":false,"zero":false}},
  "color":{"condition":{"test":"datum.prev != null && datum.ao >= datum.prev","value":"#3fbf3a"},"value":"#c0393b"}}},
{"data":{"values":[{"n":0.8,"v":0.0039,"t":"Awesome Osc(34,5)"}]},
 "mark":{"type":"text","fontSize":7,"fontWeight":"bold","color":"#222","align":"left","baseline":"middle"},
 "encoding":{"x":{"field":"n","type":"quantitative","scale":{"domain":[-0.5,254.5],"nice":false,"zero":false},"axis":null},
  "y":{"field":"v","type":"quantitative","scale":{"domain":[-0.0071,0.00605],"nice":false,"zero":false}},"text":{"field":"t"}}},
{"data":{"values":[{"n1":255,"n2":265.2,"v1":-0.00327,"v2":-0.00493}]},"mark":{"type":"rect","fill":"#ffffff","stroke":"#777","strokeWidth":0.8,"cornerRadius":2},
 "encoding":{"x":{"field":"n1","type":"quantitative","scale":{"domain":[-0.5,254.5],"nice":false,"zero":false},"axis":null},"x2":{"field":"n2"},
  "y":{"field":"v1","type":"quantitative","scale":{"domain":[-0.0071,0.00605],"nice":false,"zero":false}},"y2":{"field":"v2"}}},
{"data":{"values":[{"n":260.1,"v":-0.0041,"t":"-0.00410"}]},
 "mark":{"type":"text","fontSize":6.5,"color":"#333","align":"center","baseline":"middle"},
 "encoding":{"x":{"field":"n","type":"quantitative","scale":{"domain":[-0.5,254.5],"nice":false,"zero":false},"axis":null},
  "y":{"field":"v","type":"quantitative","scale":{"domain":[-0.0071,0.00605],"nice":false,"zero":false}},"text":{"field":"t"}}}
]
}
]
}
